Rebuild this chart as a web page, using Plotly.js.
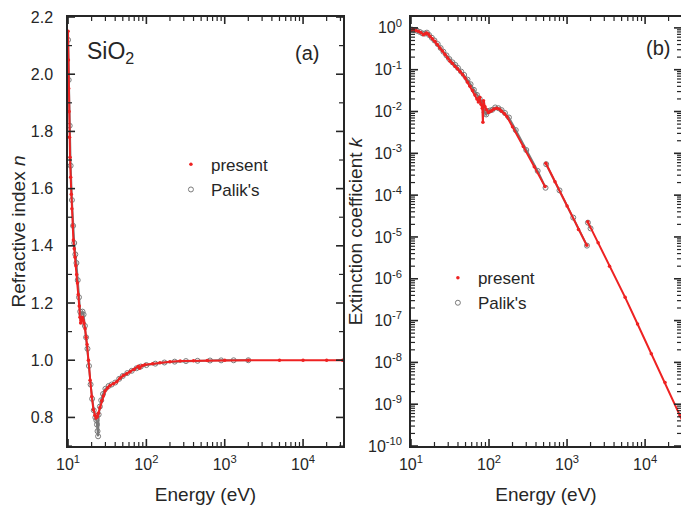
<!DOCTYPE html>
<html>
<head>
<meta charset="utf-8">
<script src="https://cdn.plot.ly/plotly-3.0.1.min.js"></script>
<style>html,body{margin:0;padding:0;background:#fff;}#chart{width:681px;height:508px;}</style>
</head>
<body>
<div id="chart"></div>
<script>
// ---------- Panel (a): refractive index n ----------
const nPresentE = [10.0, 10.1, 10.2, 10.3, 10.45, 10.6, 10.8, 11.0, 11.2, 11.5, 11.7, 12.0, 12.3, 12.6, 12.9, 13.2, 13.5, 13.9, 14.2, 14.5, 14.8, 15.2, 15.6, 16.0, 16.5, 17.0, 17.5, 18.2, 19.1, 20.1, 21.1, 22.0, 22.8, 23.6, 24.4, 25.5, 26.9, 28.2, 29.7, 32, 34.4, 38, 41.9, 46, 50.9, 56, 62, 70, 79, 82, 88, 96, 120, 149, 200, 270, 400, 600, 1000, 2000, 5000, 10000, 20000, 32000];
const nPresent  = [2.15, 2.05, 1.95, 1.87, 1.78, 1.71, 1.64, 1.58, 1.53, 1.47, 1.42, 1.39, 1.36, 1.33, 1.30, 1.27, 1.23, 1.19, 1.15, 1.13, 1.14, 1.15, 1.14, 1.13, 1.11, 1.08, 1.055, 1.0, 0.93, 0.873, 0.827, 0.808, 0.798, 0.802, 0.815, 0.835, 0.858, 0.875, 0.892, 0.903, 0.912, 0.918, 0.925, 0.937, 0.947, 0.953, 0.96, 0.968, 0.979, 0.972, 0.981, 0.984, 0.988, 0.991, 0.995, 0.997, 0.998, 0.999, 0.9995, 0.9998, 1.0, 1.0, 1.0, 1.0];

const nPalikE = [10.0, 10.2, 10.5, 10.8, 11.2, 11.6, 12.0, 12.4, 12.8, 13.3, 13.8, 14.3, 14.8, 15.3, 15.8, 16.4, 17.0, 17.7, 18.5, 19.4, 20.3, 21.3, 22.3, 23.0, 23.4, 23.8, 24.2, 24.6, 25.5, 26.5, 28, 30, 33, 36, 40, 45, 50, 57, 65, 75, 85, 100, 130, 170, 230, 320, 450, 650, 900, 1300, 2000];
const nPalik  = [2.12, 1.98, 1.82, 1.68, 1.56, 1.47, 1.41, 1.37, 1.34, 1.28, 1.22, 1.17, 1.16, 1.17, 1.16, 1.12, 1.08, 1.04, 0.98, 0.915, 0.865, 0.825, 0.80, 0.79, 0.775, 0.752, 0.734, 0.81, 0.838, 0.86, 0.882, 0.9, 0.91, 0.915, 0.922, 0.935, 0.945, 0.955, 0.963, 0.972, 0.978, 0.983, 0.988, 0.992, 0.995, 0.997, 0.998, 0.999, 0.9995, 0.9998, 0.9999];

// ---------- Panel (b): extinction coefficient k ----------
const kPresentE = [10.0, 10.7, 11.5, 12.4, 13.3, 14.4, 15.2, 15.9, 16.7, 17.5, 18.8, 20.3, 21.8, 23.5, 25.3, 27.3, 29.4, 31.6, 34, 36.7, 39.5, 42.5, 45.8, 49.3, 53, 57, 61.5, 66, 70, 73, 76, 79, 82, 83.5, 85, 88.8, 93, 98, 103, 108, 115, 125, 135, 145, 158, 169, 200, 275, 380, 522, null, 535, 700, 1000, 1400, 1790, null, 1840, 2500, 3500, 5550, 8000, 12000, 18000, 28000, 32000];
const kPresent  = [0.88, 0.91, 0.87, 0.83, 0.78, 0.69, 0.72, 0.76, 0.70, 0.63, 0.55, 0.48, 0.40, 0.33, 0.28, 0.23, 0.19, 0.16, 0.14, 0.12, 0.105, 0.091, 0.077, 0.063, 0.05, 0.04, 0.032, 0.025, 0.02, 0.017, 0.022, 0.015, 0.012, 0.0055, 0.018, 0.013, 0.011, 0.0095, 0.01, 0.0105, 0.0115, 0.012, 0.0115, 0.0102, 0.0088, 0.0076, 0.0043, 0.00145, 0.00048, 0.00016, null, 0.00058, 0.00021, 5.5e-5, 1.5e-5, 6.3e-6, null, 2.3e-5, 7.3e-6, 2.0e-6, 3.6e-7, 8.3e-8, 1.6e-8, 3.3e-9, 5.3e-10, 3.1e-10];

const kPalikE = [10, 10.5, 11.2, 12, 13, 14, 15, 16, 17, 18.5, 20, 22, 24, 26, 28.5, 31, 34, 37, 40, 44, 48, 53, 58, 64, 70, 76, 82, 88, 92, 96, 102, 110, 120, 132, 145, 160, 180, 220, 300, 420, 530, null, 540, 800, 1200, 1800, null, 1850, 2000];
const kPalik  = [0.92, 0.90, 0.88, 0.85, 0.80, 0.74, 0.73, 0.77, 0.68, 0.58, 0.50, 0.41, 0.33, 0.27, 0.22, 0.18, 0.15, 0.13, 0.11, 0.09, 0.075, 0.058, 0.045, 0.033, 0.025, 0.02, 0.016, 0.0095, 0.0085, 0.01, 0.0105, 0.011, 0.0125, 0.012, 0.0108, 0.0092, 0.0072, 0.0036, 0.0012, 0.00038, 0.00015, null, 0.00055, 0.00013, 2.9e-5, 6.2e-6, null, 2.2e-5, 1.6e-5];

// ---------- Ticks and labels ----------
const xTickVals = [10, 100, 1000, 10000];
const xTickText = ['10<sup>1</sup>', '10<sup>2</sup>', '10<sup>3</sup>', '10<sup>4</sup>'];
const xMinorVals = [20, 30, 40, 50, 60, 70, 80, 90, 200, 300, 400, 500, 600, 700, 800, 900, 2000, 3000, 4000, 5000, 6000, 7000, 8000, 9000, 20000, 30000];
const nTickVals = [0.8, 1.0, 1.2, 1.4, 1.6, 1.8, 2.0, 2.2];
const nMinorVals = [0.7, 0.9, 1.1, 1.3, 1.5, 1.7, 1.9, 2.1];
const kTickVals = [1, 1e-1, 1e-2, 1e-3, 1e-4, 1e-5, 1e-6, 1e-7, 1e-8, 1e-9, 1e-10];
const kTickText = ['10<sup>0</sup>', '10<sup>-1</sup>', '10<sup>-2</sup>', '10<sup>-3</sup>', '10<sup>-4</sup>', '10<sup>-5</sup>', '10<sup>-6</sup>', '10<sup>-7</sup>', '10<sup>-8</sup>', '10<sup>-9</sup>', '10<sup>-10</sup>'];
const seriesNames = ['present', "Palik's"];

// minor tick positions for the k axis: digits 2..9 of each decade
const kMinorVals = [];
kTickVals.forEach(function (d) { for (let m = 2; m <= 9; m++) kMinorVals.push(m * d); });

// axis ranges (log axes in exponents)
const xRangeA = [1, 4.51], xRangeB = [1, 4.46];
const nRange = [0.7, 2.2], kRange = [-10, 0.26];
const domXA = [0.0999, 0.5037], domXB = [0.6035, 1.0], domY = [0.122, 0.9665];
const W = 681, H = 508;

const RED = '#ee2222';
const GRAY = '#7a7a7a';
const INK = '#262626';
const FONT = 'Liberation Sans, Arial, Helvetica, sans-serif';

function lineTrace(x, y, color, width, xa, ya) {
  return {x: x, y: y, xaxis: xa, yaxis: ya, type: 'scatter', mode: 'lines',
          line: {color: color, width: width}, showlegend: false, hoverinfo: 'skip'};
}
function markTrace(x, y, name, marker, xa, ya, leg, rank) {
  return {x: x, y: y, xaxis: xa, yaxis: ya, type: 'scatter', mode: 'markers',
          name: name, marker: marker, legend: leg, legendrank: rank};
}
const mPresent = {color: RED, size: 3.5, symbol: 'circle'};
const mPalik = {color: GRAY, size: 5, symbol: 'circle-open', line: {color: GRAY, width: 1}};

const data = [
  lineTrace(nPalikE, nPalik, GRAY, 2, 'x', 'y'),
  markTrace(nPalikE, nPalik, seriesNames[1], mPalik, 'x', 'y', 'legend', 2),
  lineTrace(nPresentE, nPresent, RED, 2, 'x', 'y'),
  markTrace(nPresentE, nPresent, seriesNames[0], mPresent, 'x', 'y', 'legend', 1),
  lineTrace(kPalikE, kPalik, GRAY, 2, 'x2', 'y2'),
  markTrace(kPalikE, kPalik, seriesNames[1], mPalik, 'x2', 'y2', 'legend2', 2),
  lineTrace(kPresentE, kPresent, RED, 2, 'x2', 'y2'),
  markTrace(kPresentE, kPresent, seriesNames[0], mPresent, 'x2', 'y2', 'legend2', 1)
];

// ---------- inward tick marks on all four sides (axis furniture as shapes) ----------
const MAJ = 7, MIN = 4;
function frac(v, r, isLog) { const t = isLog ? Math.log10(v) : v; return (t - r[0]) / (r[1] - r[0]); }
function tickShapes(dir, vals, range, isLog, xa, ya, len, otherPx, width) {
  const out = [];
  const d = len / otherPx;
  vals.forEach(function (v) {
    const f = frac(v, range, isLog);
    if (f < -1e-6 || f > 1 + 1e-6) return;
    [[0, d], [1, 1 - d]].forEach(function (p) {
      const s = {type: 'line', xref: xa + ' domain', yref: ya + ' domain', layer: 'above',
                 line: {color: INK, width: width}};
      if (dir === 'x') { s.x0 = f; s.x1 = f; s.y0 = p[0]; s.y1 = p[1]; }
      else { s.y0 = f; s.y1 = f; s.x0 = p[0]; s.x1 = p[1]; }
      out.push(s);
    });
  });
  return out;
}
const hPx = (domY[1] - domY[0]) * H;
const wA = (domXA[1] - domXA[0]) * W, wB = (domXB[1] - domXB[0]) * W;
const shapes = [].concat(
  tickShapes('x', xTickVals, xRangeA, true, 'x', 'y', MAJ, hPx, 1.6),
  tickShapes('x', xMinorVals, xRangeA, true, 'x', 'y', MIN, hPx, 1.2),
  tickShapes('y', nTickVals, nRange, false, 'x', 'y', MAJ, wA, 1.6),
  tickShapes('y', nMinorVals, nRange, false, 'x', 'y', MIN, wA, 1.2),
  tickShapes('x', xTickVals, xRangeB, true, 'x2', 'y2', MAJ, hPx, 1.6),
  tickShapes('x', xMinorVals, xRangeB, true, 'x2', 'y2', MIN, hPx, 1.2),
  tickShapes('y', kTickVals, kRange, true, 'x2', 'y2', MAJ, wB, 1.6),
  tickShapes('y', kMinorVals, kRange, true, 'x2', 'y2', MIN, wB, 1.2)
);

const axCommon = {
  showline: true, linecolor: INK, linewidth: 1.8, mirror: true,
  ticks: '', showgrid: false, zeroline: false,
  tickfont: {family: FONT, size: 16, color: INK}
};
function xAxis(domain, range, anchor) {
  return Object.assign({}, axCommon, {
    type: 'log', domain: domain, range: range, anchor: anchor,
    tickmode: 'array', tickvals: xTickVals, ticktext: xTickText, ticklabelstandoff: 3,
    title: {text: 'Energy (eV)', font: {family: FONT, size: 19, color: INK}, standoff: 16}
  });
}

const layout = {
  width: W, height: H,
  margin: {l: 0, r: 0, t: 0, b: 0},
  paper_bgcolor: '#fff', plot_bgcolor: '#fff',
  font: {family: FONT, color: INK},
  xaxis: xAxis(domXA, xRangeA, 'y'),
  yaxis: Object.assign({}, axCommon, {
    domain: domY, range: nRange, anchor: 'x',
    tickmode: 'array', tickvals: nTickVals, tickformat: '.1f', ticklabelstandoff: 10,
    title: {text: 'Refractive index <i>n</i>', font: {family: FONT, size: 19, color: INK}, standoff: 0}
  }),
  xaxis2: xAxis(domXB, xRangeB, 'y2'),
  yaxis2: Object.assign({}, axCommon, {
    type: 'log', domain: domY, range: kRange, anchor: 'x2',
    tickmode: 'array', tickvals: kTickVals, ticktext: kTickText, ticklabelstandoff: 4,
    title: {text: '\u00a0\u00a0\u00a0\u00a0\u00a0\u00a0\u00a0Extinction coefficient <i>k</i>', font: {family: FONT, size: 19, color: INK}, standoff: 0}
  }),
  shapes: shapes,
  legend: {x: 0.251, y: 0.711, xanchor: 'left', yanchor: 'top', bgcolor: 'rgba(0,0,0,0)',
           font: {family: FONT, size: 17, color: INK}, itemwidth: 30},
  legend2: {x: 0.643, y: 0.488, xanchor: 'left', yanchor: 'top', bgcolor: 'rgba(0,0,0,0)',
            font: {family: FONT, size: 17, color: INK}, itemwidth: 30},
  annotations: [
    {text: 'SiO<sub>2</sub>', xref: 'paper', yref: 'paper', x: 0.1248, y: 0.8976, xanchor: 'left', yanchor: 'middle',
     showarrow: false, font: {family: FONT, size: 23, color: INK}},
    {text: '(a)', xref: 'paper', yref: 'paper', x: 0.451, y: 0.8957, xanchor: 'center', yanchor: 'middle',
     showarrow: false, font: {family: FONT, size: 20, color: INK}},
    {text: '(b)', xref: 'paper', yref: 'paper', x: 0.966, y: 0.9055, xanchor: 'center', yanchor: 'middle',
     showarrow: false, font: {family: FONT, size: 20, color: INK}}
  ],
  showlegend: true
};

Plotly.newPlot('chart', data, layout, {displayModeBar: false, staticPlot: true});
</script>
</body>
</html>
